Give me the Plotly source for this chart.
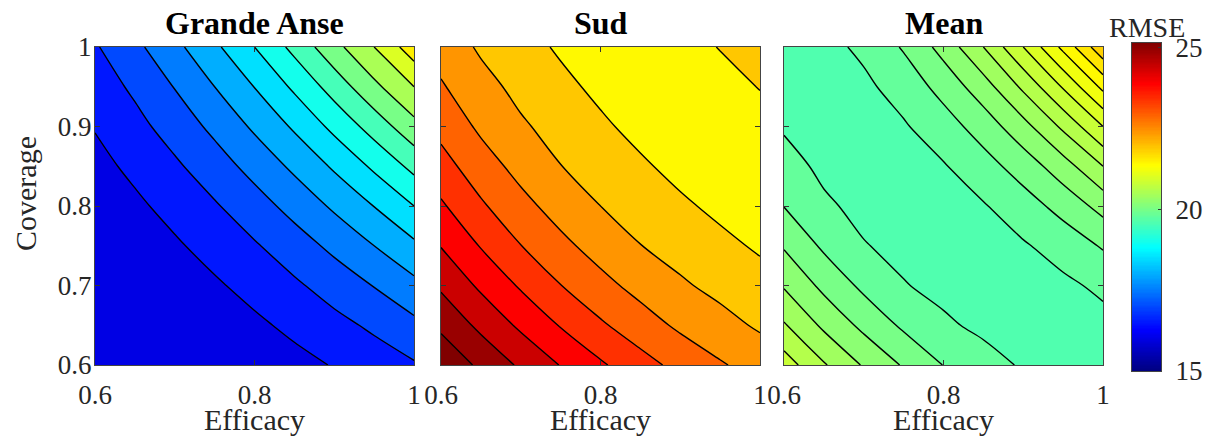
import numpy as np
import plotly.graph_objects as go

# ---------------- data ----------------
EFFICACY = [0.60, 0.65, 0.70, 0.75, 0.80, 0.85, 0.90, 0.95, 1.00]
COVERAGE = [0.60, 0.65, 0.70, 0.75, 0.80, 0.85, 0.90, 0.95, 1.00]

# rows = coverage (0.6 -> 1.0), columns = efficacy (0.6 -> 1.0)
RMSE_GRANDE_ANSE = [
    [15.20, 15.38, 15.56, 15.74, 15.92, 16.09, 16.28, 16.49, 16.70],
    [15.38, 15.57, 15.77, 15.96, 16.15, 16.37, 16.60, 16.84, 17.13],
    [15.56, 15.77, 15.98, 16.18, 16.42, 16.67, 16.96, 17.27, 17.62],
    [15.74, 15.96, 16.18, 16.44, 16.70, 17.02, 17.37, 17.75, 18.15],
    [15.92, 16.15, 16.42, 16.70, 17.04, 17.42, 17.83, 18.26, 18.75],
    [16.09, 16.37, 16.67, 17.02, 17.42, 17.85, 18.32, 18.84, 19.39],
    [16.28, 16.60, 16.96, 17.37, 17.83, 18.32, 18.88, 19.46, 20.09],
    [16.49, 16.84, 17.27, 17.75, 18.26, 18.84, 19.46, 20.13, 20.75],
    [16.70, 17.13, 17.62, 18.15, 18.75, 19.39, 20.09, 20.75, 21.53],
]
RMSE_SUD = [
    [25.53, 25.05, 24.57, 24.13, 23.72, 23.34, 23.00, 22.70, 22.45],
    [25.05, 24.53, 24.06, 23.62, 23.22, 22.875, 22.56, 22.32, 22.08],
    [24.57, 24.06, 23.59, 23.16, 22.80, 22.49, 22.22, 22.01, 21.83],
    [24.13, 23.62, 23.16, 22.775, 22.45, 22.16, 21.96, 21.77, 21.585],
    [23.72, 23.22, 22.80, 22.45, 22.15, 21.93, 21.73, 21.54, 21.37],
    [23.34, 22.875, 22.49, 22.16, 21.93, 21.72, 21.51, 21.36, 21.315],
    [23.00, 22.56, 22.22, 21.96, 21.73, 21.51, 21.355, 21.32, 21.46],
    [22.70, 22.32, 22.01, 21.77, 21.54, 21.36, 21.32, 21.47, 21.67],
    [22.45, 22.08, 21.83, 21.585, 21.37, 21.315, 21.46, 21.67, 21.85],
]
RMSE_MEAN = [
    [20.80, 20.52, 20.28, 20.08, 19.895, 19.77, 19.68, 19.64, 19.595],
    [20.52, 20.26, 20.05, 19.865, 19.73, 19.66, 19.62, 19.59, 19.64],
    [20.28, 20.05, 19.855, 19.71, 19.65, 19.60, 19.61, 19.66, 19.74],
    [20.08, 19.865, 19.71, 19.65, 19.595, 19.62, 19.68, 19.78, 19.92],
    [19.895, 19.73, 19.65, 19.595, 19.625, 19.685, 19.81, 19.97, 20.17],
    [19.77, 19.66, 19.60, 19.62, 19.685, 19.82, 19.99, 20.21, 20.50],
    [19.68, 19.62, 19.61, 19.68, 19.81, 19.99, 20.23, 20.54, 20.90],
    [19.64, 19.59, 19.66, 19.78, 19.97, 20.21, 20.54, 20.92, 21.35],
    [19.595, 19.64, 19.74, 19.92, 20.17, 20.50, 20.90, 21.35, 21.85],
]

PANEL_TITLES = ["Grande Anse", "Sud", "Mean"]
# contour levels per panel: (start, end, step)
LEVELS_GRANDE_ANSE = [16.25, 21.25, 0.5]
LEVELS_SUD = [21.65, 25.15, 0.5]
LEVELS_MEAN = [19.7, 21.7, 0.2]

X_TICKS = [0.6, 0.8, 1.0]
X_TICK_TEXT = ["0.6", "0.8", "1"]
Y_TICKS = [0.6, 0.7, 0.8, 0.9, 1.0]
Y_TICK_TEXT = ["0.6", "0.7", "0.8", "0.9", "1"]
CBAR_TICKS = [15, 20, 25]
CBAR_TICK_TEXT = ["15", "20", "25"]
X_LABEL = "Efficacy"
Y_LABEL = "Coverage"
CBAR_LABEL = "RMSE"

# ---------------- styling ----------------
W, H = 1214, 436
FONT = "Liberation Serif"
TXT = "#262626"
FRAME = "#444444"
CMIN, CMAX = 15.0, 25.15


def jet(v):
    t = (v - CMIN) / (CMAX - CMIN)
    t = min(max(t, 0.0), 1.0)

    def ch(c):
        return max(0.0, min(1.0, 1.5 - abs(4 * t - c)))
    r, g, b = ch(3), ch(2), ch(1)
    return "rgb(%d,%d,%d)" % (round(r * 255), round(g * 255), round(b * 255))


JET_CS = [[0.0, "rgb(0,0,128)"], [0.125, "rgb(0,0,255)"], [0.375, "rgb(0,255,255)"],
          [0.625, "rgb(255,255,0)"], [0.875, "rgb(255,0,0)"], [1.0, "rgb(128,0,0)"]]


def px_x(x):
    return x / W


def px_y(y):
    return 1 - y / H


X_DOMAINS = [(95, 414), (441, 760), (784, 1103)]
Y_TOP, Y_BOT = 47, 365
CB_X = (1132, 1161)
CB_Y = (43, 371)

fig = go.Figure()
datasets = [RMSE_GRANDE_ANSE, RMSE_SUD, RMSE_MEAN]
levels = [LEVELS_GRANDE_ANSE, LEVELS_SUD, LEVELS_MEAN]

for i, (z, lv) in enumerate(zip(datasets, levels)):
    start, end, step = lv
    nc = int(round((end - start) / step)) + 1
    cs = [[k / nc, jet(start - step / 2 + k * step)] for k in range(nc + 1)]
    sfx = "" if i == 0 else str(i + 1)
    fig.add_trace(go.Contour(
        x=EFFICACY, y=COVERAGE, z=z,
        xaxis="x" + sfx, yaxis="y" + sfx,
        autocontour=False,
        contours=dict(start=start, end=end, size=step, coloring="fill", showlines=True),
        line=dict(color="black", width=1.4, smoothing=1),
        colorscale=cs, zmin=start - step / 2, zmax=end + step / 2,
        showscale=False, hoverinfo="skip",
    ))

# colour bar drawn as a thin heatmap on its own axis (gradient of the scale)
cb_vals = np.linspace(CMIN, CMAX, 256)
fig.add_trace(go.Heatmap(
    x=[0], y=cb_vals, z=[[v] for v in cb_vals], xaxis="x4", yaxis="y4",
    colorscale=JET_CS, zmin=CMIN, zmax=CMAX, showscale=False, hoverinfo="skip",
))

layout = dict(
    width=W, height=H, margin=dict(l=0, r=0, t=0, b=0, autoexpand=False),
    paper_bgcolor="white", plot_bgcolor="white",
    font=dict(family=FONT, color=TXT), showlegend=False,
)
annotations = []
for i, (x0, x1) in enumerate(X_DOMAINS):
    sfx = "" if i == 0 else str(i + 1)
    layout["xaxis" + sfx] = dict(
        domain=[px_x(x0), px_x(x1)], range=[0.6, 1.0], anchor="y" + sfx,
        tickvals=X_TICKS, ticktext=X_TICK_TEXT, ticks="inside", ticklen=5,
        tickcolor="#333333", showline=True, linecolor=FRAME, linewidth=1,
        mirror="ticks", showgrid=False, zeroline=False, automargin=False,
        tickfont=dict(family=FONT, size=27, color=TXT), ticklabelstandoff=6,
    )
    layout["yaxis" + sfx] = dict(
        domain=[px_y(Y_BOT), px_y(Y_TOP)], range=[0.6, 1.0], anchor="x" + sfx,
        tickvals=Y_TICKS, ticktext=Y_TICK_TEXT, ticks="inside", ticklen=5,
        tickcolor="#333333", showline=True, linecolor=FRAME, linewidth=1,
        mirror="ticks", showgrid=False, zeroline=False, showticklabels=(i == 0),
        automargin=False,
        tickfont=dict(family=FONT, size=27, color=TXT), ticklabelstandoff=-3,
    )
    cx = (x0 + x1) / 2
    annotations.append(dict(text="<b>%s</b>" % PANEL_TITLES[i], x=px_x(cx), y=px_y(23),
                            xref="paper", yref="paper", xanchor="center", yanchor="middle",
                            showarrow=False, font=dict(family=FONT, size=32, color="black")))
    annotations.append(dict(text=X_LABEL, x=px_x(cx), y=px_y(419),
                            xref="paper", yref="paper", xanchor="center", yanchor="middle",
                            showarrow=False, font=dict(family=FONT, size=30, color=TXT)))

layout["xaxis4"] = dict(
    domain=[px_x(CB_X[0]), px_x(CB_X[1])], range=[-0.5, 0.5], anchor="y4",
    showticklabels=False, ticks="", showline=True, linecolor=FRAME, linewidth=1,
    mirror=True, showgrid=False, zeroline=False, automargin=False,
)
layout["yaxis4"] = dict(
    domain=[px_y(CB_Y[1]), px_y(CB_Y[0])], range=[CMIN, CMAX], anchor="x4",
    side="right", tickvals=CBAR_TICKS, ticktext=CBAR_TICK_TEXT,
    ticks="inside", ticklen=3, tickcolor="#333333",
    showline=True, linecolor=FRAME, linewidth=1, mirror=True,
    showgrid=False, zeroline=False, automargin=False,
    tickfont=dict(family=FONT, size=27, color=TXT), ticklabelstandoff=8,
)

annotations.append(dict(text=Y_LABEL, x=px_x(25), y=px_y(194), textangle=-90,
                        xref="paper", yref="paper", xanchor="center", yanchor="middle",
                        showarrow=False, font=dict(family=FONT, size=30, color=TXT)))
annotations.append(dict(text=CBAR_LABEL, x=px_x(1147), y=px_y(27),
                        xref="paper", yref="paper", xanchor="center", yanchor="middle",
                        showarrow=False, font=dict(family=FONT, size=28, color=TXT)))
layout["annotations"] = annotations
fig.update_layout(**layout)

fig.write_html("out.html")
